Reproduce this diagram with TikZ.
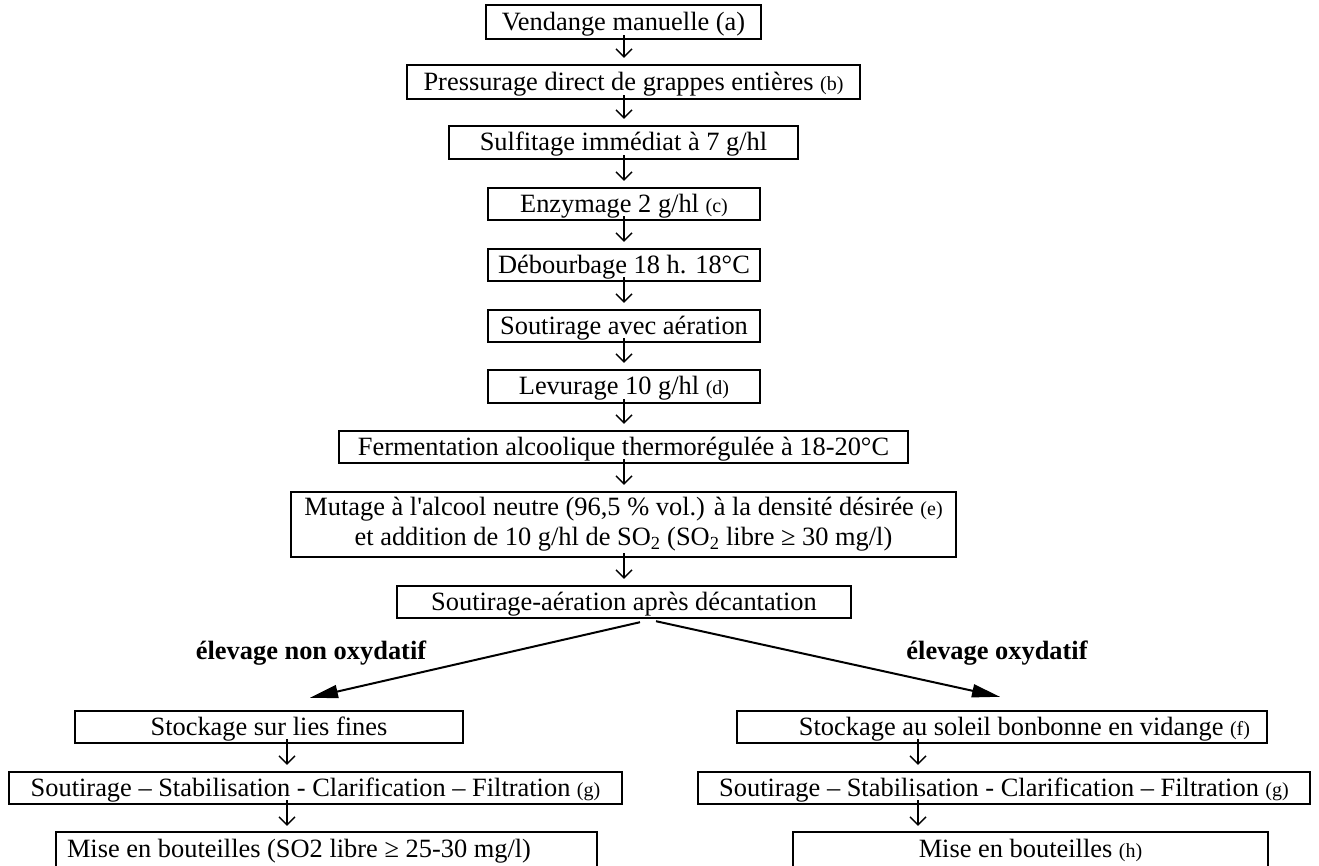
\documentclass[tikz,border=0pt]{standalone}
\usepackage{fontspec}
\setmainfont{Liberation Serif}[Ligatures=TeXOff]
\usetikzlibrary{arrows.meta,calc}
\newcommand{\sm}[1]{{\fontsize{20}{24}\selectfont #1}}
\newcommand{\flowarrow}[3]{\draw[flow] ($(#1.south -| #3)+(0,-5)$) -- ($(#2.north -| #3)+(0,-6)$);}
\begin{document}
\begin{tikzpicture}[x=1pt,y=-1pt,
  boxbase/.style={draw,line width=2.4pt,minimum height=32pt,inner sep=0pt,font=\fontsize{26.4}{31}\selectfont},
  box/.style={boxbase,text height=21pt,text depth=5pt},
  flow/.style={line width=1.4pt,-{Straight Barb[length=8pt,width=16pt,line width=1.4pt]}},
  big/.style={line width=2pt,-{Triangle[length=28pt,width=13pt]}},
  lab/.style={font=\fontsize{26.4}{31}\selectfont\bfseries,anchor=base,inner sep=0pt},
  openbox/.style={line width=2.4pt}]
\useasboundingbox (0,0) rectangle (1319,865);
\coordinate (mc) at (624,0);
\coordinate (lc) at (287,0);
\coordinate (rc) at (918,0);
% main column
\node[box,minimum width=275pt,minimum height=34pt] (vend) at (623.5,22) {Vendange manuelle (a)};
\node[box,minimum width=453pt,minimum height=34pt] (press) at (633.5,82) {Pressurage direct de grappes entières \sm{(b)}};
\node[box,minimum width=349pt,minimum height=33pt] (sulf) at (623.5,142.5) {Sulfitage immédiat à 7 g/hl};
\node[box,minimum width=272pt] (enzy) at (624,204) {Enzymage 2 g/hl \sm{(c)}};
\node[box,minimum width=272pt] (debo) at (624,265) {Débourbage 18 h. 18°C};
\node[box,minimum width=272pt] (sout) at (624,326) {Soutirage avec aération};
\node[box,minimum width=272pt,minimum height=33pt] (levu) at (624,386.5) {Levurage 10 g/hl \sm{(d)}};
\node[box,minimum width=569pt] (ferm) at (623.5,447) {Fermentation alcoolique thermorégulée à 18-20°C};
\node[boxbase,minimum width=665pt,minimum height=65pt,align=center] (muta) at (623.5,524.5)
  {Mutage à l'alcool neutre (96,5 \% vol.) à la densité désirée \sm{(e)}\\[-1pt]
   et addition de 10 g/hl de SO\textsubscript{2} (SO\textsubscript{2} libre ≥ 30 mg/l)};
\node[box,minimum width=454pt] (sae) at (624,602) {Soutirage-aération après décantation};
% branch labels
\node[lab] (lnon) at (311,659) {élevage non oxydatif};
\node[lab] (lox) at (997,659) {élevage oxydatif};
% left column
\node[box,minimum width=388pt] (stockL) at (269,727) {Stockage sur lies fines};
\node[box,minimum width=613pt] (soutL) at (315.5,788) {Soutirage – Stabilisation - Clarification – Filtration \sm{(g)}};
\node[box,draw=none,inner xsep=10pt] (miseL) at (326.5,849) {\makebox[519pt][l]{Mise en bouteilles (SO2 libre ≥ 25-30 mg/l)}};
\draw[openbox] ([yshift=-30pt]miseL.south west) |- (miseL.north east) -- ([yshift=-30pt]miseL.south east);
% right column
\node[box,inner xsep=17pt] (stockR) at (1002,727) {\makebox[496pt][r]{Stockage au soleil bonbonne en vidange \sm{(f)}}};
\node[box,minimum width=612pt] (soutR) at (1004,788) {Soutirage – Stabilisation - Clarification – Filtration \sm{(g)}};
\node[box,draw=none,minimum width=473pt] (miseR) at (1030.5,849) {Mise en bouteilles \sm{(h)}};
\draw[openbox] ([yshift=-30pt]miseR.south west) |- (miseR.north east) -- ([yshift=-30pt]miseR.south east);
% small arrows
\flowarrow{vend}{press}{mc}
\flowarrow{press}{sulf}{mc}
\flowarrow{sulf}{enzy}{mc}
\flowarrow{enzy}{debo}{mc}
\flowarrow{debo}{sout}{mc}
\flowarrow{sout}{levu}{mc}
\flowarrow{levu}{ferm}{mc}
\flowarrow{ferm}{muta}{mc}
\flowarrow{muta}{sae}{mc}
\flowarrow{stockL}{soutL}{lc}
\flowarrow{soutL}{miseL}{lc}
\flowarrow{stockR}{soutR}{rc}
\flowarrow{soutR}{miseR}{rc}
% branch arrows
\draw[big] ($(sae.south)+(16,3)$) -- ($(stockL.north)+(41,-12)$);
\draw[big] ($(sae.south)+(32,2)$) -- ($(stockR.north)+(-2,-13)$);
\end{tikzpicture}
\end{document}
